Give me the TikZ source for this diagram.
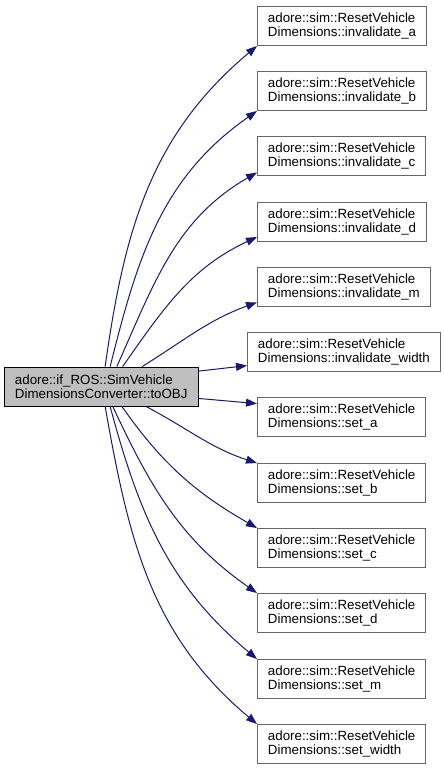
\documentclass[tikz,border=0pt]{standalone}
\usepackage{fontspec}
\setmainfont{Liberation Sans}
\usetikzlibrary{arrows.meta}
\definecolor{edgeblue}{HTML}{191970}
\definecolor{boxgrey}{HTML}{666666}
\definecolor{srcgrey}{HTML}{BFBFBF}
\begin{document}
\begin{tikzpicture}[x=1pt,y=1pt,
  fn/.style={draw=boxgrey, line width=0.9pt, fill=white, anchor=west, align=left,
    inner xsep=10.5pt, minimum height=39pt, font=\fontsize{13.33}{14.5}\selectfont},
  srcfn/.style={fn, draw=black, fill=srcgrey},
  call/.style={draw=edgeblue, line width=1pt, -{Triangle[length=11pt,width=8pt]}, edgeblue}]
\useasboundingbox (0,0) rectangle (444,-771);

\node[srcfn] (src) at (4,-386.5) {adore::if\_ROS::SimVehicle\\DimensionsConverter::toOBJ};

\node[fn] (inva) at (257,-26) {adore::sim::ResetVehicle\\Dimensions::invalidate\_a};
\node[fn] (invb) at (257,-91) {adore::sim::ResetVehicle\\Dimensions::invalidate\_b};
\node[fn] (invc) at (257,-156) {adore::sim::ResetVehicle\\Dimensions::invalidate\_c};
\node[fn] (invd) at (257,-222) {adore::sim::ResetVehicle\\Dimensions::invalidate\_d};
\node[fn] (invm) at (257,-287) {adore::sim::ResetVehicle\\Dimensions::invalidate\_m};
\node[fn] (invwidth) at (247,-352) {adore::sim::ResetVehicle\\Dimensions::invalidate\_width};
\node[fn] (seta) at (257,-417) {adore::sim::ResetVehicle\\Dimensions::set\_a};
\node[fn] (setb) at (257,-483) {adore::sim::ResetVehicle\\Dimensions::set\_b};
\node[fn] (setc) at (257,-548) {adore::sim::ResetVehicle\\Dimensions::set\_c};
\node[fn] (setd) at (257,-613) {adore::sim::ResetVehicle\\Dimensions::set\_d};
\node[fn] (setm) at (257,-679) {adore::sim::ResetVehicle\\Dimensions::set\_m};
\node[fn] (setwidth) at (257,-744) {adore::sim::ResetVehicle\\Dimensions::set\_width};

\draw[call] (src.79) to[out=82,in=220] (inva.south west);
\draw[call] (src.66) to[out=76,in=215] (invb.south west);
\draw[call] (src.52) to[out=66,in=210] (invc.191);
\draw[call] (src.43) to[out=55,in=205] (invd.190);
\draw[call] (src.26) to[out=32,in=200] (invm.190);
\draw[call] (src.9) -- (invwidth.188);
\draw[call] (src.-7) -- (seta.171);
\draw[call] (src.-24) to[out=-28,in=162] (setb.north west);
\draw[call] (src.-44) to[out=-55,in=150] (setc.north west);
\draw[call] (src.-60) to[out=-65,in=145] (setd.north west);
\draw[call] (src.-66) to[out=-75,in=140] (setm.north west);
\draw[call] (src.-79) to[out=-80,in=140] (setwidth.north west);
\end{tikzpicture}
\end{document}
